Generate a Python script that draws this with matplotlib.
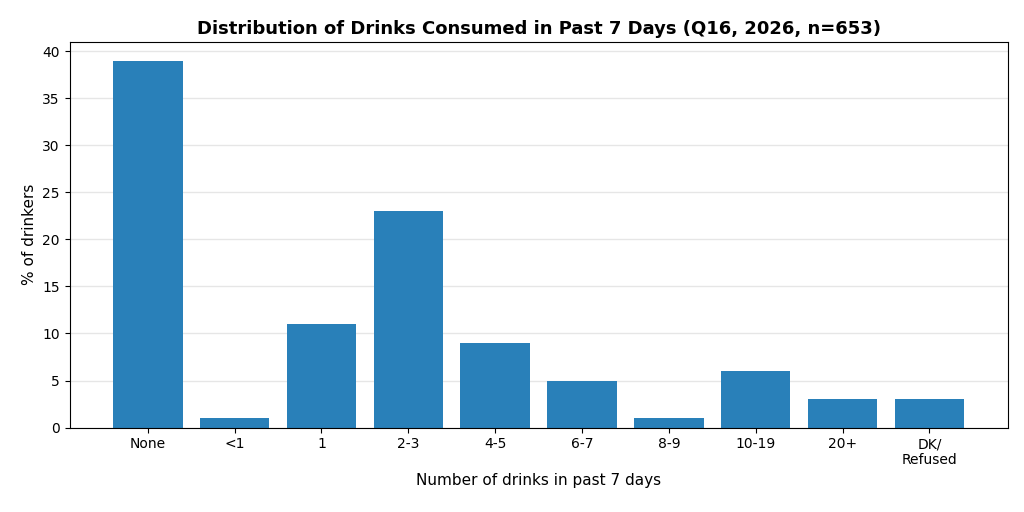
import matplotlib
matplotlib.use('Agg')
import matplotlib.pyplot as plt

categories = ['None', '<1', '1', '2-3', '4-5', '6-7', '8-9', '10-19', '20+', 'DK/\nRefused']
percent = [39, 1, 11, 23, 9, 5, 1, 6, 3, 3]

fig, ax = plt.subplots(figsize=(10.24, 5.12), dpi=100)
fig.subplots_adjust(left=0.068, right=0.984, top=0.918, bottom=0.165)

ax.bar(range(len(categories)), percent, width=0.8, color='#2980b9')
ax.set_xticks(range(len(categories)))
ax.set_xticklabels(categories)
ax.set_xlim(-0.9, len(categories) - 0.1)
ax.set_ylim(0, 41)
ax.yaxis.grid(True, color='#e6e6e6', linewidth=1)
ax.set_axisbelow(True)

ax.set_title('Distribution of Drinks Consumed in Past 7 Days (Q16, 2026, n=653)',
             fontsize=13, fontweight='bold')
ax.set_xlabel('Number of drinks in past 7 days', fontsize=11)
ax.set_ylabel('% of drinkers', fontsize=11)

fig.savefig('out.png')
